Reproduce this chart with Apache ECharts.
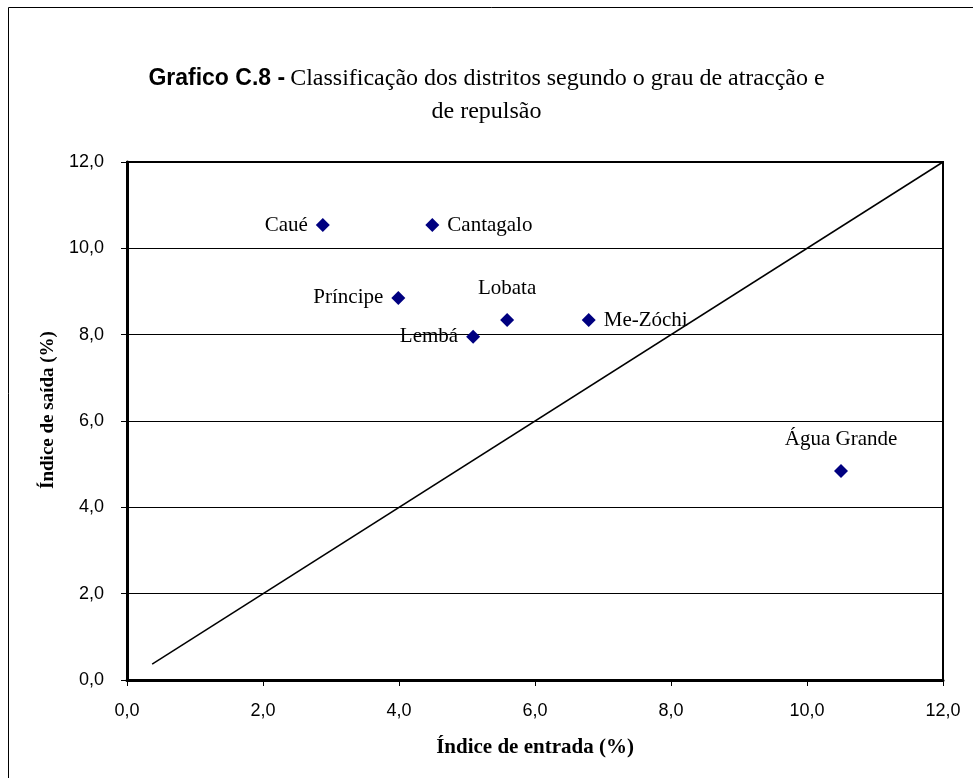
<!DOCTYPE html>
<html>
<head>
<meta charset="utf-8">
<script src="https://cdn.jsdelivr.net/npm/echarts@6/dist/echarts.min.js"></script>
<style>html,body{margin:0;padding:0;background:#fff;}#c{width:973px;height:778px;}</style>
</head>
<body>
<div id="c"></div>
<script>
const districts = ["Caué", "Cantagalo", "Príncipe", "Lobata", "Me-Zóchi", "Lembá", "Água Grande"];
const entrada = [2.88, 4.49, 3.99, 5.59, 6.79, 5.09, 10.5];
const saida = [10.54, 10.54, 8.85, 8.34, 8.34, 7.95, 4.84];
const refLineX = [0.37, 12];
const refLineY = [0.37, 12];
const tickValues = [0, 2, 4, 6, 8, 10, 12];

const labelPos = {"Caué":"left","Cantagalo":"right","Príncipe":"left","Lobata":"top","Me-Zóchi":"right","Lembá":"left","Água Grande":"top"};
const labelDist = {"Lobata":14,"Água Grande":14};

const chart = echarts.init(document.getElementById('c'));
const fmt = v => v.toFixed(1).replace('.', ',');
const points = districts.map((n, i) => ({
  name: n,
  value: [entrada[i], saida[i]],
  label: {show: true, position: labelPos[n], distance: labelDist[n] || 8, formatter: '{b}'}
}));
chart.setOption({
  animation: false,
  title: {
    text: '{b|Grafico C.8 -} {n|Classificação dos distritos segundo o grau de atracção e}\n{n|de repulsão}',
    left: 'center',
    top: 57,
    textStyle: {
      fontWeight: 'normal',
      rich: {
        b: {fontFamily: 'Liberation Sans', fontWeight: 'bold', fontSize: 23, color: '#000', lineHeight: 33},
        n: {fontFamily: 'Liberation Serif', fontWeight: 'normal', fontSize: 24, color: '#000', lineHeight: 33}
      }
    }
  },
  graphic: [{
    type: 'rect', shape: {x: 8.5, y: 7.5, width: 1200, height: 1200},
    style: {fill: 'none', stroke: '#000', lineWidth: 1}, silent: true, z: -1
  }],
  grid: {left: 127, right: 30, top: 162, bottom: 98, show: true, borderColor: '#000', borderWidth: 2, backgroundColor: 'transparent'},
  xAxis: {
    type: 'value', min: 0, max: 12, interval: 2,
    name: 'Índice de entrada (%)', nameLocation: 'middle', nameGap: 57,
    nameTextStyle: {fontFamily: 'Liberation Serif', fontWeight: 'bold', fontSize: 21, color: '#000'},
    axisLine: {show: true, onZero: false, lineStyle: {color: '#000', width: 3}},
    axisTick: {show: true, length: 6, lineStyle: {color: '#000', width: 1}},
    axisLabel: {formatter: fmt, fontFamily: 'Liberation Sans', fontSize: 18, color: '#000', margin: 22},
    splitLine: {show: false}
  },
  yAxis: {
    type: 'value', min: 0, max: 12, interval: 2,
    name: 'Índice de saída (%)', nameLocation: 'middle', nameGap: 68, nameRotate: 90,
    nameTextStyle: {fontFamily: 'Liberation Serif', fontWeight: 'bold', fontSize: 19, color: '#000', padding: [0, 0, 0, 22]},
    axisLine: {show: true, onZero: false, lineStyle: {color: '#000', width: 3}},
    axisTick: {show: true, length: 6, lineStyle: {color: '#000', width: 1}},
    axisLabel: {formatter: fmt, fontFamily: 'Liberation Sans', fontSize: 18, color: '#000', margin: 23},
    splitLine: {show: true, lineStyle: {color: '#000', width: 1}}
  },
  series: [
    {
      type: 'line', data: refLineX.map((x, i) => [x, refLineY[i]]),
      symbol: 'none', lineStyle: {color: '#000', width: 1.5}, silent: true, z: 1
    },
    {
      type: 'scatter', data: points, symbol: 'diamond', symbolSize: 14,
      itemStyle: {color: '#000080', opacity: 1},
      label: {fontFamily: 'Liberation Serif', fontSize: 21, color: '#000'},
      z: 3
    }
  ]
});
</script>
</body>
</html>
